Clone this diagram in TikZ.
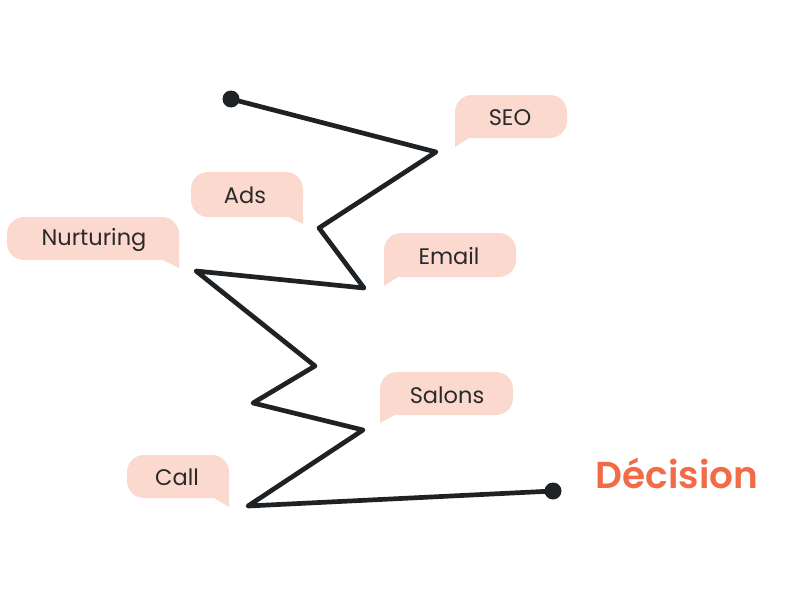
\documentclass[tikz,border=0pt]{standalone}
\usepackage{fontspec}
\setmainfont{Poppins}
\newfontfamily\popsemi{Poppins}[UprightFont=* SemiBold]
\definecolor{bubblefill}{HTML}{FCD9CF}
\definecolor{inkline}{HTML}{1E2225}
\definecolor{labeltext}{HTML}{2A2A2A}
\definecolor{accent}{HTML}{F26B47}
% tail at bottom-left: #1 left, #2 top, #3 right, #4 bottom, #5 tip y, #6 inner x
\newcommand\mybubbleL[6]{%
  \fill[bubblefill,rounded corners=17pt] (#1,#2) rectangle (#3,#4);
  \fill[bubblefill] (#1,#4-18) rectangle (#6,#4);
  \fill[bubblefill] (#1,#4-1) -- (#1,#5) -- (#6,#4) -- cycle;}
% tail at bottom-right
\newcommand\mybubbleR[6]{%
  \fill[bubblefill,rounded corners=17pt] (#1,#2) rectangle (#3,#4);
  \fill[bubblefill] (#6,#4-18) rectangle (#3,#4);
  \fill[bubblefill] (#3,#4-1) -- (#3,#5) -- (#6,#4) -- cycle;}
\begin{document}
\begin{tikzpicture}[x=1pt,y=-1pt,
  lbl/.style={text=labeltext,font=\fontsize{22.5}{24}\selectfont,inner sep=0pt,anchor=center},
  zig/.style={draw=inkline,line width=4.7pt,line join=round,line cap=round},
  enddot/.style={fill=inkline}]
\useasboundingbox (0,0) rectangle (800,602);
% bubbles
\mybubbleL{455}{95}{567}{138}{147}{469}
\mybubbleR{191}{172}{303}{217}{224}{289}
\mybubbleR{7}{217}{179}{260}{268}{163}
\mybubbleL{384}{233}{516}{277}{286}{398}
\mybubbleL{380}{372}{513}{415}{423}{395}
\mybubbleR{127}{455}{229}{498}{507}{214}
\node[lbl] (seo) at (510,118) {SEO};
\node[lbl] (ads) at (245,195) {Ads};
\node[lbl] (nurt) at (94,240) {Nurturing};
\node[lbl] (email) at (449,256) {Email};
\node[lbl] (salons) at (447,395) {Salons};
\node[lbl] (call) at (177,477) {Call};
\node[text=accent,font=\popsemi\fontsize{37.5}{40}\selectfont,inner sep=0pt] (dec) at (677,473) {Décision};
% zigzag path
\coordinate (p0) at (231,99);
\coordinate (p1) at (436,152);
\coordinate (p2) at (319,228);
\coordinate (p3) at (364,288);
\coordinate (p4) at (196,271);
\coordinate (p5) at (315,366);
\coordinate (p6) at (253,403);
\coordinate (p7) at (363,430);
\coordinate (p8) at (248,506);
\coordinate (p9) at (553,491);
\draw[zig] (p0) -- (p1) -- (p2) -- (p3) -- (p4) -- (p5) -- (p6) -- (p7) -- (p8) -- (p9);
\fill[enddot] (p0) circle (8.5);
\fill[enddot] (p9) circle (8.5);
\end{tikzpicture}
\end{document}
